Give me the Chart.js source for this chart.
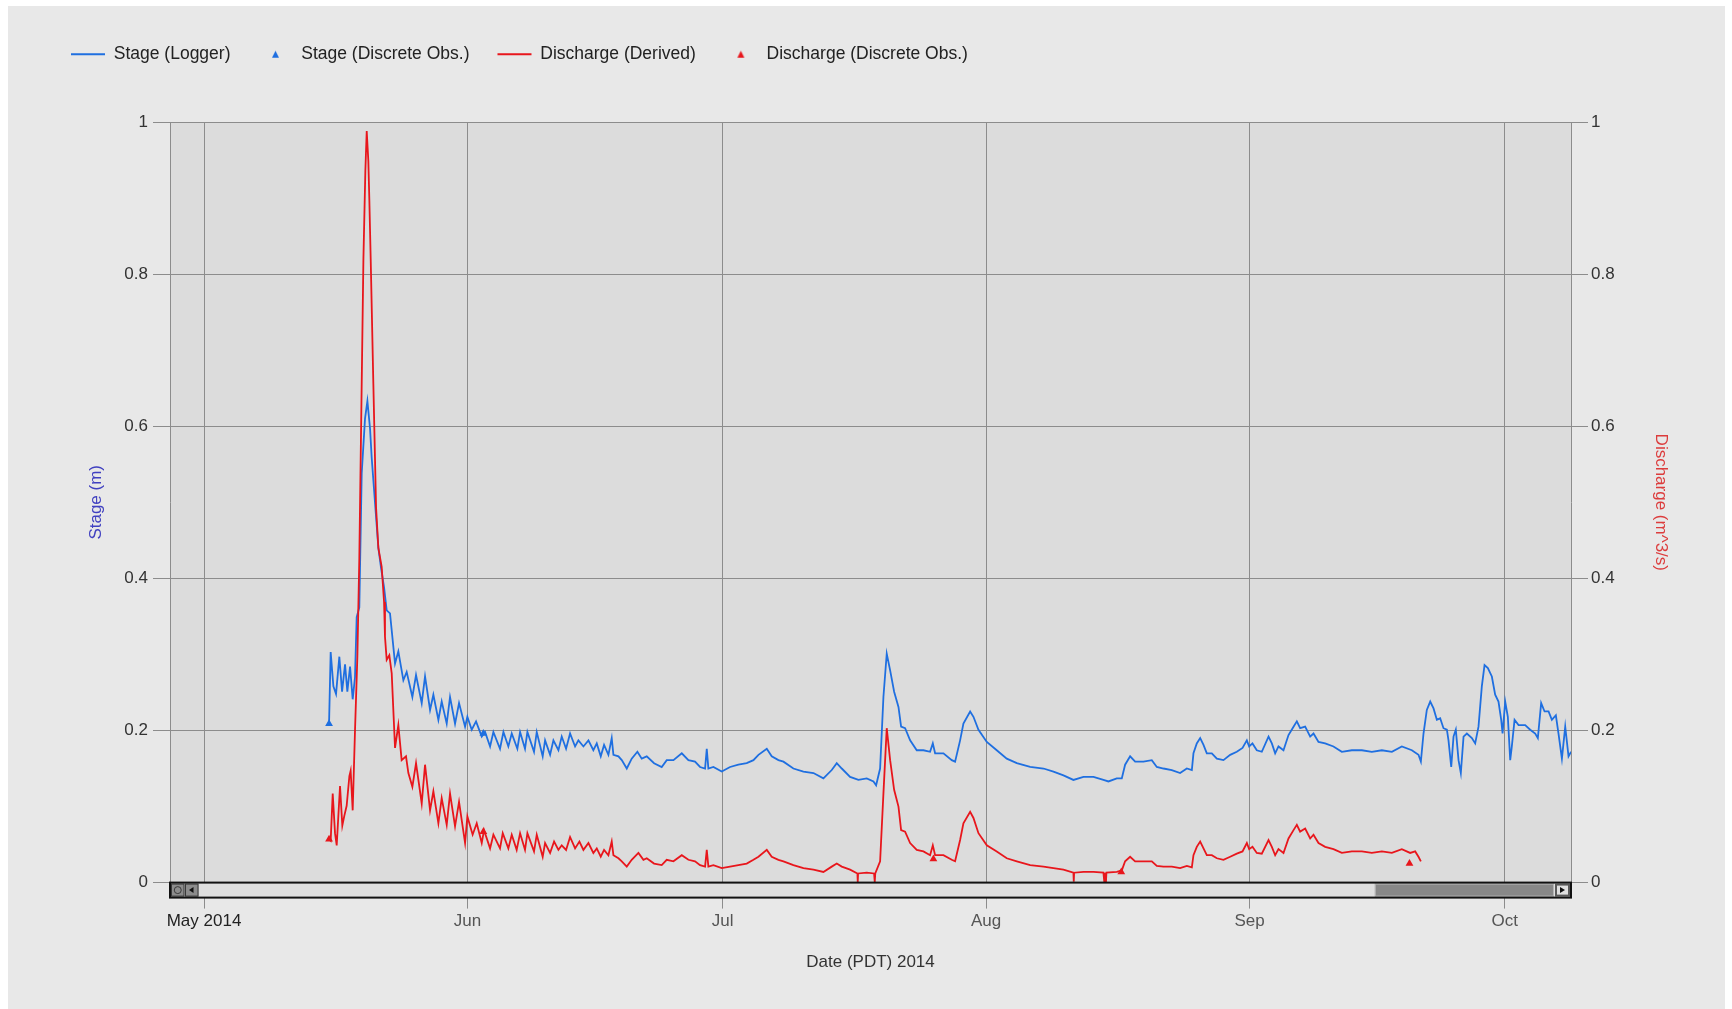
<!DOCTYPE html>
<html>
<head>
<meta charset="utf-8">
<title>Stage and Discharge 2014</title>
<script src="https://cdn.jsdelivr.net/npm/chart.js@4.4.1/dist/chart.umd.min.js"></script>
<style>
  html, body { margin: 0; padding: 0; background: #ffffff; }
  #wrap { position: absolute; left: 8px; top: 6px; width: 1717px; height: 1003px; background: #e8e8e8; }
  canvas { display: block; }
</style>
</head>
<body>
<div id="wrap"><canvas id="chart" width="1717" height="1003"></canvas></div>
<script>
// x values are days counted from 1 May 2014 00:00 (PDT)
const monthTickDays = [0, 31, 61, 92, 123, 153];
const monthTickLabels = ['May 2014', 'Jun', 'Jul', 'Aug', 'Sep', 'Oct'];

// Stage (Logger), metres
const stageLogger = [
  [14.71,0.209],[14.90,0.303],[15.22,0.258],[15.53,0.248],[15.92,0.297],[16.24,0.251],[16.59,0.287],[16.86,0.251],
  [17.18,0.284],[17.49,0.241],[17.76,0.270],[17.96,0.349],[18.27,0.362],[18.55,0.538],[18.94,0.610],[19.22,0.633],
  [19.53,0.597],[19.73,0.558],[20.12,0.499],[20.51,0.440],[20.82,0.414],[21.18,0.388],[21.49,0.358],[21.88,0.354],
  [22.47,0.288],[22.86,0.304],[23.45,0.266],[23.84,0.277],[24.51,0.244],[24.94,0.273],[25.61,0.236],[26.00,0.271],
  [26.59,0.227],[26.98,0.247],[27.57,0.214],[27.96,0.238],[28.55,0.209],[28.94,0.244],[29.53,0.209],[30.00,0.236],
  [30.71,0.205],[30.98,0.218],[31.49,0.201],[32.00,0.212],[32.67,0.192],[33.06,0.198],[33.65,0.179],[34.04,0.198],
  [34.82,0.176],[35.22,0.198],[35.80,0.179],[36.20,0.196],[36.86,0.176],[37.18,0.198],[37.76,0.176],[38.04,0.198],
  [38.82,0.172],[39.14,0.198],[39.84,0.166],[40.12,0.187],[40.71,0.168],[41.10,0.187],[41.69,0.174],[42.08,0.192],
  [42.59,0.176],[43.06,0.196],[43.65,0.179],[44.04,0.187],[44.63,0.179],[45.22,0.187],[45.80,0.174],[46.20,0.183],
  [46.67,0.166],[47.06,0.181],[47.57,0.168],[47.96,0.190],[48.16,0.168],[48.75,0.166],[49.14,0.161],[49.73,0.150],
  [50.31,0.163],[50.98,0.172],[51.49,0.163],[52.08,0.166],[52.94,0.157],[53.84,0.152],[54.43,0.161],[55.22,0.161],
  [56.20,0.170],[56.98,0.161],[57.76,0.159],[58.35,0.152],[58.94,0.150],[59.14,0.176],[59.33,0.150],[59.92,0.152],
  [60.90,0.146],[61.88,0.152],[62.86,0.155],[63.84,0.157],[64.63,0.161],[65.22,0.168],[66.20,0.176],[66.78,0.166],
  [67.57,0.161],[68.16,0.159],[69.33,0.150],[70.51,0.146],[71.69,0.144],[72.86,0.137],[73.84,0.148],[74.43,0.157],
  [75.02,0.150],[76.00,0.139],[76.98,0.135],[77.96,0.137],[78.75,0.133],[79.06,0.128],[79.53,0.150],[79.92,0.244],
  [80.31,0.301],[80.71,0.279],[81.18,0.251],[81.69,0.231],[82.00,0.205],[82.47,0.203],[83.06,0.187],[83.84,0.174],
  [84.63,0.174],[85.41,0.172],[85.73,0.183],[86.00,0.170],[86.98,0.170],[87.96,0.161],[88.35,0.159],[88.94,0.187],
  [89.33,0.209],[90.12,0.225],[90.51,0.218],[91.10,0.201],[92.08,0.185],[93.25,0.174],[94.43,0.163],[95.61,0.157],
  [97.18,0.152],[98.75,0.150],[99.92,0.146],[101.10,0.141],[102.27,0.135],[103.45,0.139],[104.63,0.139],[105.80,0.135],
  [106.39,0.133],[107.37,0.137],[107.96,0.137],[108.35,0.155],[108.94,0.166],[109.53,0.159],[110.51,0.159],[111.49,0.161],
  [112.08,0.152],[112.86,0.150],[113.84,0.148],[114.82,0.144],[115.61,0.150],[116.20,0.148],[116.39,0.170],[116.78,0.183],
  [117.18,0.190],[117.57,0.181],[117.96,0.170],[118.55,0.170],[119.14,0.163],[119.92,0.161],[120.71,0.168],[121.49,0.172],
  [122.16,0.177],[122.67,0.187],[122.94,0.179],[123.33,0.183],[123.84,0.174],[124.43,0.172],[125.22,0.192],[125.61,0.183],
  [126.00,0.170],[126.39,0.179],[126.98,0.174],[127.57,0.194],[128.16,0.205],[128.55,0.212],[128.94,0.203],[129.53,0.205],
  [130.12,0.192],[130.51,0.196],[131.10,0.185],[131.88,0.183],[132.86,0.179],[133.84,0.172],[135.02,0.174],[136.20,0.174],
  [137.37,0.172],[138.55,0.174],[139.73,0.172],[140.90,0.179],[142.08,0.174],[142.86,0.168],[143.14,0.159],[143.45,0.196],
  [143.84,0.227],[144.24,0.238],[144.63,0.229],[145.02,0.214],[145.41,0.216],[145.80,0.203],[146.20,0.201],[146.39,0.187],
  [146.71,0.152],[146.98,0.192],[147.25,0.201],[147.57,0.161],[147.84,0.144],[148.16,0.192],[148.55,0.196],[149.14,0.190],
  [149.53,0.183],[149.92,0.205],[150.31,0.258],[150.63,0.286],[151.02,0.282],[151.49,0.271],[151.88,0.247],[152.27,0.238],
  [152.59,0.214],[152.75,0.196],[153.06,0.238],[153.37,0.218],[153.65,0.161],[153.84,0.179],[154.16,0.214],[154.63,0.207],
  [155.41,0.207],[156.00,0.201],[156.59,0.196],[156.90,0.190],[157.29,0.236],[157.69,0.225],[158.16,0.225],[158.55,0.214],
  [159.02,0.220],[159.33,0.196],[159.73,0.163],[160.12,0.205],[160.51,0.166],[160.82,0.172]
];

// Stage (Discrete Obs.), metres
const stageObs = [[14.71,0.209],[32.86,0.196]];

// Discharge (Derived), m^3/s
const dischargeDerived = [
  [14.71,0.057],[14.90,0.055],[15.14,0.117],[15.41,0.065],[15.61,0.049],[16.00,0.127],[16.27,0.075],[16.51,0.088],
  [16.78,0.101],[17.10,0.140],[17.25,0.147],[17.49,0.095],[17.76,0.199],[18.04,0.297],[18.27,0.427],[18.55,0.656],
  [18.75,0.819],[18.98,0.936],[19.14,0.988],[19.33,0.949],[19.45,0.897],[19.61,0.819],[19.92,0.656],[20.24,0.493],
  [20.51,0.440],[20.90,0.415],[21.18,0.369],[21.29,0.323],[21.49,0.293],[21.80,0.299],[22.08,0.275],[22.47,0.177],
  [22.86,0.207],[23.25,0.161],[23.76,0.166],[24.04,0.144],[24.51,0.126],[24.94,0.157],[25.61,0.104],[26.00,0.155],
  [26.59,0.095],[26.98,0.120],[27.57,0.078],[27.96,0.111],[28.55,0.076],[28.94,0.117],[29.53,0.074],[30.00,0.106],
  [30.71,0.052],[30.98,0.087],[31.60,0.063],[32.08,0.078],[32.67,0.052],[32.94,0.069],[33.65,0.045],[34.04,0.063],
  [34.82,0.045],[35.14,0.065],[35.80,0.045],[36.20,0.063],[36.78,0.043],[37.18,0.065],[37.76,0.043],[38.04,0.065],
  [38.82,0.041],[39.14,0.063],[39.84,0.034],[40.12,0.052],[40.71,0.039],[41.18,0.054],[41.69,0.043],[42.08,0.049],
  [42.59,0.043],[43.06,0.060],[43.65,0.045],[44.16,0.054],[44.63,0.043],[45.22,0.052],[45.80,0.039],[46.20,0.045],
  [46.67,0.034],[47.06,0.043],[47.57,0.036],[47.96,0.054],[48.16,0.036],[48.75,0.032],[49.14,0.028],[49.73,0.021],
  [50.31,0.030],[51.10,0.039],[51.69,0.030],[52.08,0.032],[52.94,0.025],[53.84,0.023],[54.43,0.030],[55.22,0.028],
  [56.20,0.036],[56.98,0.030],[57.76,0.028],[58.35,0.023],[58.94,0.021],[59.14,0.043],[59.33,0.021],[59.92,0.023],
  [60.90,0.019],[61.88,0.021],[62.86,0.023],[63.84,0.025],[64.63,0.030],[65.22,0.034],[66.20,0.043],[66.78,0.034],
  [67.57,0.030],[68.16,0.028],[69.33,0.023],[70.51,0.019],[71.69,0.017],[72.86,0.014],[73.84,0.021],[74.43,0.025],
  [75.02,0.021],[76.00,0.017],[76.86,0.012],[76.90,0.001],[76.94,0.012],[77.96,0.013],[78.82,0.012],[78.90,0.001],
  [78.96,0.012],[79.53,0.028],[79.92,0.117],[80.31,0.203],[80.71,0.161],[81.18,0.122],[81.69,0.100],[82.00,0.069],
  [82.47,0.067],[83.06,0.052],[83.84,0.043],[84.63,0.041],[85.41,0.036],[85.73,0.049],[86.00,0.036],[86.98,0.036],
  [87.96,0.030],[88.35,0.028],[88.94,0.056],[89.33,0.078],[90.12,0.093],[90.51,0.085],[91.10,0.065],[92.08,0.049],
  [93.25,0.041],[94.43,0.032],[95.61,0.028],[97.18,0.023],[98.75,0.021],[99.92,0.019],[101.10,0.017],[102.27,0.013],
  [102.31,0.001],[102.35,0.013],[103.45,0.014],[104.63,0.014],[105.80,0.013],[105.90,0.001],[105.95,0.013],[106.10,0.001],
  [106.15,0.013],[107.37,0.014],[107.96,0.016],[108.35,0.028],[108.94,0.034],[109.53,0.028],[110.51,0.028],[111.49,0.028],
  [112.08,0.022],[112.86,0.021],[113.84,0.021],[114.82,0.019],[115.61,0.022],[116.20,0.020],[116.39,0.036],[116.78,0.047],
  [117.18,0.054],[117.57,0.045],[117.96,0.036],[118.55,0.036],[119.14,0.032],[119.92,0.030],[120.71,0.034],[121.49,0.038],
  [122.16,0.041],[122.67,0.052],[122.94,0.044],[123.33,0.047],[123.84,0.039],[124.43,0.038],[125.22,0.056],[125.61,0.047],
  [126.00,0.036],[126.39,0.044],[126.98,0.039],[127.57,0.058],[128.16,0.069],[128.55,0.076],[128.94,0.067],[129.53,0.071],
  [130.12,0.058],[130.51,0.063],[131.10,0.052],[131.88,0.047],[132.86,0.044],[133.84,0.039],[135.02,0.041],[136.20,0.041],
  [137.37,0.039],[138.55,0.041],[139.73,0.039],[140.90,0.044],[141.88,0.039],[142.47,0.041],[142.86,0.034],[143.14,0.028]
];

// Discharge (Discrete Obs.), m^3/s
const dischargeObs = [[14.71,0.057],[32.86,0.067],[85.80,0.031],[107.90,0.014],[141.80,0.025]];

const STAGE_BLUE = '#1f6fe0';
const DISCHARGE_RED = '#e8161c';
const GRID_GREY = '#8c8c8c';
const FONT = '"Liberation Sans", Arial, sans-serif';

const toXY = pairs => pairs.map(([x, y]) => ({ x, y }));
const axisNumber = v => String(Number(v.toFixed(2)));

// small upright triangle used as the legend symbol of the observation series
function legendTriangle(color) {
  const c = document.createElement('canvas');
  c.width = 9; c.height = 9;
  const g = c.getContext('2d');
  g.fillStyle = color;
  g.beginPath();
  g.moveTo(4.5, 1); g.lineTo(8, 8); g.lineTo(1, 8);
  g.closePath();
  g.fill();
  return c;
}

// plot area fill behind the grid
const plotBackground = {
  id: 'plotBackground',
  beforeDraw(chart) {
    const { ctx, chartArea: a } = chart;
    ctx.save();
    ctx.fillStyle = '#dcdcdc';
    ctx.fillRect(a.left, a.top, a.right - a.left, a.bottom - a.top);
    ctx.restore();
  }
};

// navigator scrollbar strip under the time axis
const scrollbar = {
  id: 'scrollbar',
  afterDraw(chart) {
    const { ctx, chartArea: a } = chart;
    const y = a.bottom, h = 15, w = a.right - a.left;
    ctx.save();
    ctx.fillStyle = '#dedede';
    ctx.fillRect(a.left, y, w, h);

    // thumb
    const tx0 = a.left + w * 0.86, tx1 = a.right - 17;
    ctx.fillStyle = '#888888';
    ctx.fillRect(tx0, y + 1, tx1 - tx0, h - 2);
    ctx.strokeStyle = '#b4b4b4';
    ctx.lineWidth = 1;
    ctx.strokeRect(tx0 + 0.5, y + 1.5, tx1 - tx0 - 1, h - 3);

    // right arrow button
    ctx.fillStyle = '#5a5a5a';
    ctx.fillRect(a.right - 16, y + 1, 16, h - 2);
    ctx.fillStyle = '#e0e0e0';
    ctx.fillRect(a.right - 14, y + 3, 11, h - 6);
    ctx.fillStyle = '#111';
    ctx.beginPath();
    ctx.moveTo(a.right - 11, y + 4.5); ctx.lineTo(a.right - 6, y + 7.5); ctx.lineTo(a.right - 11, y + 10.5);
    ctx.closePath(); ctx.fill();

    // left buttons: reset and step back
    const b0 = a.left + 1, bw = 13.5;
    ctx.fillStyle = '#8c8c8c';
    ctx.fillRect(b0, y + 1, bw, h - 2);
    ctx.fillRect(b0 + bw + 0.5, y + 1, bw, h - 2);
    ctx.strokeStyle = '#3a3a3a';
    ctx.strokeRect(b0 + 0.5, y + 1.5, bw - 1, h - 3);
    ctx.strokeRect(b0 + bw + 1, y + 1.5, bw - 1, h - 3);
    ctx.beginPath();
    ctx.arc(b0 + bw / 2, y + h / 2, 3.5, 0, Math.PI * 2);
    ctx.stroke();
    ctx.fillStyle = '#111';
    ctx.beginPath();
    ctx.moveTo(b0 + bw + 9, y + 4.5); ctx.lineTo(b0 + bw + 4.5, y + 7.5); ctx.lineTo(b0 + bw + 9, y + 10.5);
    ctx.closePath(); ctx.fill();

    // frame
    ctx.strokeStyle = '#111';
    ctx.lineWidth = 2;
    ctx.strokeRect(a.left, y, w, h);
    ctx.restore();
  }
};

new Chart(document.getElementById('chart'), {
  type: 'line',
  data: {
    datasets: [
      {
        label: 'Stage (Logger)',
        data: toXY(stageLogger),
        yAxisID: 'y',
        borderColor: STAGE_BLUE,
        borderWidth: 1.8,
        pointRadius: 0,
        pointStyle: 'line',
        pointBorderColor: STAGE_BLUE,
        pointBackgroundColor: STAGE_BLUE,
        pointBorderWidth: 2,
        tension: 0,
        fill: false,
        order: 3
      },
      {
        label: 'Stage (Discrete Obs.)',
        data: toXY(stageObs),
        yAxisID: 'y',
        showLine: false,
        pointStyle: 'triangle',
        pointRadius: 4.5,
        pointBorderWidth: 0,
        pointBackgroundColor: STAGE_BLUE,
        pointBorderColor: STAGE_BLUE,
        borderColor: STAGE_BLUE,
        backgroundColor: STAGE_BLUE,
        legendIcon: legendTriangle(STAGE_BLUE),
        order: 1
      },
      {
        label: 'Discharge (Derived)',
        data: toXY(dischargeDerived),
        yAxisID: 'y1',
        borderColor: DISCHARGE_RED,
        borderWidth: 1.8,
        pointRadius: 0,
        pointStyle: 'line',
        pointBorderColor: DISCHARGE_RED,
        pointBackgroundColor: DISCHARGE_RED,
        pointBorderWidth: 2,
        tension: 0,
        fill: false,
        order: 2
      },
      {
        label: 'Discharge (Discrete Obs.)',
        data: toXY(dischargeObs),
        yAxisID: 'y1',
        showLine: false,
        pointStyle: 'triangle',
        pointRadius: 4.5,
        pointBorderWidth: 0,
        pointBackgroundColor: DISCHARGE_RED,
        pointBorderColor: DISCHARGE_RED,
        borderColor: DISCHARGE_RED,
        backgroundColor: DISCHARGE_RED,
        legendIcon: legendTriangle(DISCHARGE_RED),
        order: 0
      }
    ]
  },
  options: {
    responsive: false,
    devicePixelRatio: 1,
    animation: false,
    events: [],
    layout: { padding: { left: 35, right: 0, top: 11.5, bottom: 0 } },
    plugins: {
      legend: {
        position: 'top',
        align: 'start',
        labels: {
          usePointStyle: true,
          pointStyleWidth: 34,
          boxHeight: 5,
          padding: 28,
          color: '#222',
          font: { family: FONT, size: 17.5 },
          sort: (a, b) => a.datasetIndex - b.datasetIndex,
          generateLabels: chart => {
            const items = Chart.defaults.plugins.legend.labels.generateLabels(chart);
            items.forEach(item => {
              const icon = chart.data.datasets[item.datasetIndex].legendIcon;
              if (icon) item.pointStyle = icon;
            });
            return items;
          }
        }
      },
      // empty spacer between the legend and the plot
      title: {
        display: true,
        text: '',
        weight: 500,
        font: { size: 10, lineHeight: 1 },
        padding: { top: 39, bottom: 0 }
      },
      tooltip: { enabled: false }
    },
    scales: {
      x: {
        type: 'linear',
        min: -4,
        max: 160.8,
        afterBuildTicks: scale => { scale.ticks = monthTickDays.map(v => ({ value: v })); },
        afterFit: scale => { scale.height = 126.4; },
        ticks: {
          autoSkip: false,
          maxRotation: 0,
          padding: 3,
          color: ctx => (ctx.index === 0 ? '#222' : '#555'),
          font: { family: FONT, size: 17 },
          callback: (value, index) => monthTickLabels[index]
        },
        grid: { color: GRID_GREY, lineWidth: 1, tickLength: 26 },
        border: { display: true, color: GRID_GREY },
        title: {
          display: true,
          text: 'Date (PDT) 2014',
          color: '#333',
          font: { family: FONT, size: 17 },
          padding: { top: 0, bottom: 36.6 }
        }
      },
      y: {
        position: 'left',
        min: 0,
        max: 1,
        afterFit: scale => { scale.width = 127; },
        ticks: { stepSize: 0.2, padding: 5, color: '#333', font: { family: FONT, size: 17 }, callback: axisNumber },
        grid: { color: GRID_GREY, lineWidth: 1, tickLength: 17 },
        border: { display: true, color: GRID_GREY },
        title: {
          display: true,
          text: 'Stage (m)',
          color: '#4040c0',
          font: { family: FONT, size: 17 },
          padding: { top: 43, bottom: 0 }
        }
      },
      y1: {
        position: 'right',
        min: 0,
        max: 1,
        afterFit: scale => { scale.width = 154; },
        ticks: { stepSize: 0.2, padding: 3, color: '#333', font: { family: FONT, size: 17 }, callback: axisNumber },
        grid: { drawOnChartArea: false, color: GRID_GREY, lineWidth: 1, tickLength: 17 },
        border: { display: true, color: GRID_GREY },
        title: {
          display: true,
          text: 'Discharge (m^3/s)',
          color: '#dc3c3c',
          font: { family: FONT, size: 17 },
          padding: { top: 53.8, bottom: 0 }
        }
      }
    }
  },
  plugins: [plotBackground, scrollbar]
});
</script>
</body>
</html>
